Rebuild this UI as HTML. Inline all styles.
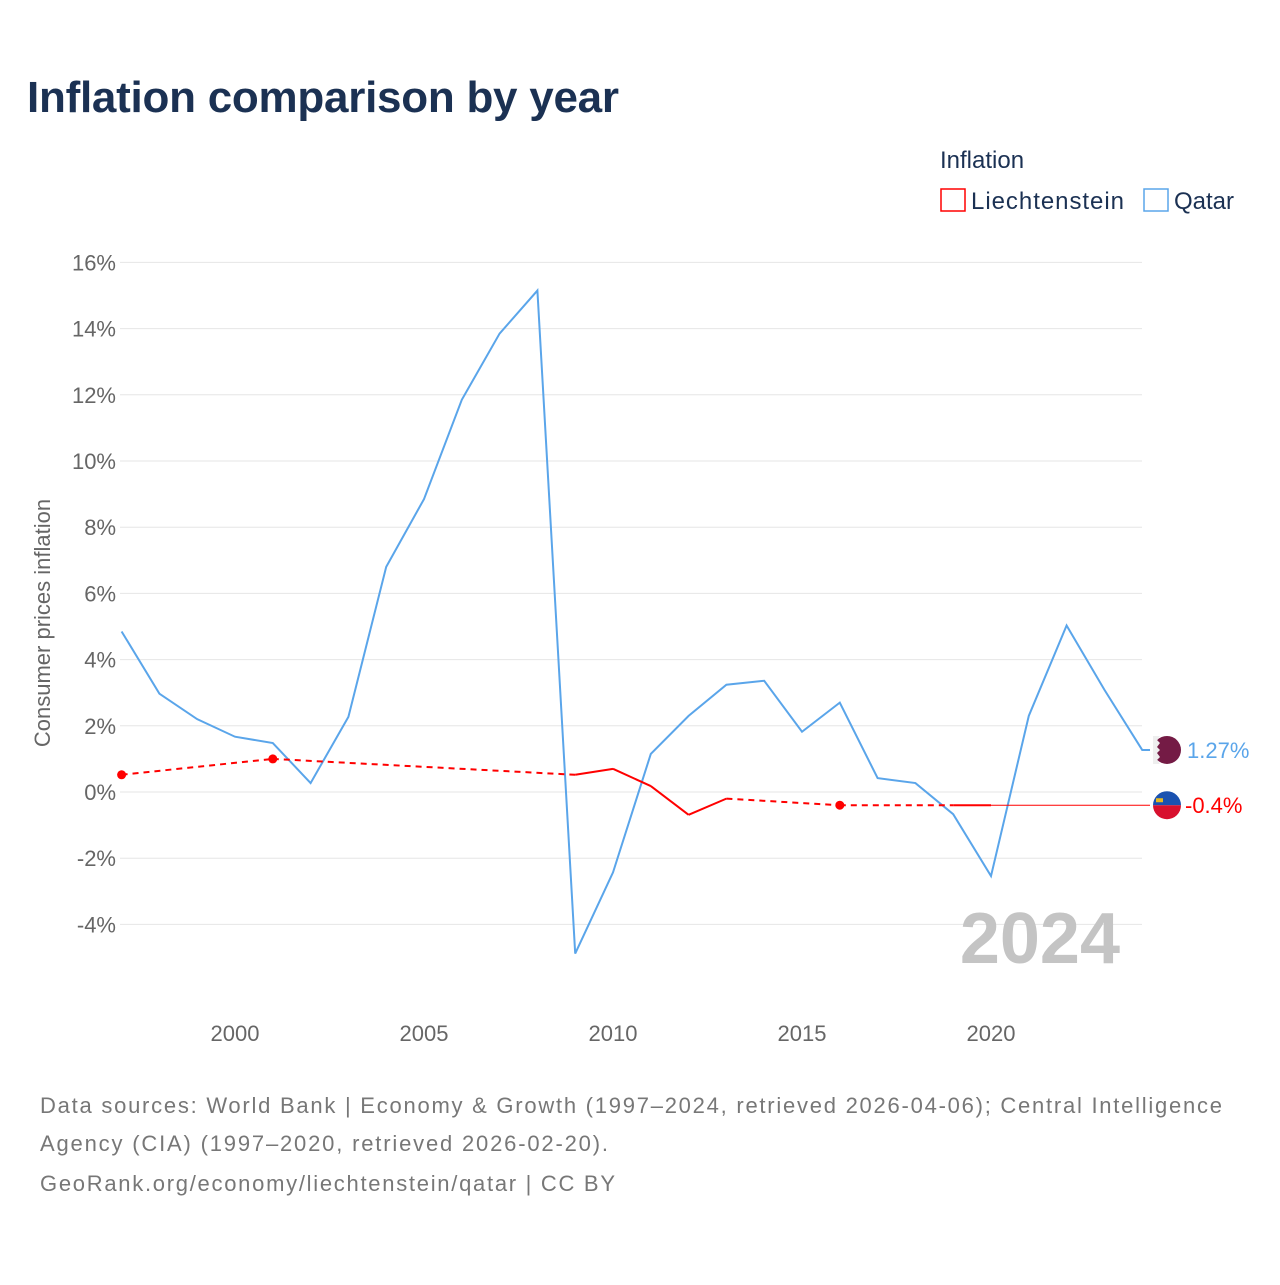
<!DOCTYPE html>
<html><head><meta charset="utf-8"><style>
body{margin:0;background:#fff;font-family:"Liberation Sans",sans-serif;}
svg text{font-family:"Liberation Sans",sans-serif;}
</style></head><body>
<svg id="c" width="1280" height="1280" viewBox="0 0 1280 1280" xmlns="http://www.w3.org/2000/svg">
<text x="27" y="112" font-size="44" font-weight="bold" fill="#1b3153" textLength="592">Inflation comparison by year</text>
<text x="940" y="168" font-size="24" fill="#1b3153">Inflation</text>
<g><rect x="941" y="189" width="24" height="22" fill="none" stroke="#f00" stroke-width="1.5"/><text x="971" y="209" font-size="24" fill="#1b3153" textLength="153">Liechtenstein</text></g>
<g><rect x="1144" y="189" width="24" height="22" fill="none" stroke="#5aa5ea" stroke-width="1.5"/><text x="1174" y="209" font-size="24" fill="#1b3153">Qatar</text></g>
<g id="grid"></g><g id="series"></g>
<text transform="translate(50,623) rotate(-90)" text-anchor="middle" font-size="22" fill="#666">Consumer prices inflation</text>
<text x="1120" y="963" text-anchor="end" font-size="72" font-weight="bold" fill="#c4c4c4">2024</text>
<g font-size="22" fill="#777">
<text x="40" y="1113" textLength="1182">Data sources: World Bank | Economy &amp; Growth (1997–2024, retrieved 2026-04-06); Central Intelligence</text>
<text x="40" y="1151" textLength="568">Agency (CIA) (1997–2020, retrieved 2026-02-20).</text>
<text x="40" y="1191" textLength="575">GeoRank.org/economy/liechtenstein/qatar | CC BY</text></g>
</svg>
<script>
const years=[1997,1998,1999,2000,2001,2002,2003,2004,2005,2006,2007,2008,2009,2010,2011,2012,2013,2014,2015,2016,2017,2018,2019,2020,2021,2022,2023,2024];
const qatar=[4.85,2.97,2.2,1.67,1.48,0.27,2.27,6.8,8.85,11.85,13.85,15.15,-4.88,-2.43,1.15,2.3,3.24,3.36,1.82,2.7,0.42,0.27,-0.67,-2.54,2.3,5.03,3.09,1.27];
const liech=[0.52,null,null,null,1.0,null,null,null,null,null,null,null,0.52,0.7,0.18,-0.69,-0.2,null,null,-0.4,null,null,-0.4,-0.4,null,null,null,null];
const yTicks=[16,14,12,10,8,6,4,2,0,-2,-4];
const xTicks=[2000,2005,2010,2015,2020];
const NS="http://www.w3.org/2000/svg";
const X=y=>121.6+(y-1997)*37.8, Y=v=>792-v*33.1;
function mk(t,a,p){const e=document.createElementNS(NS,t);for(const k in a)e.setAttribute(k,a[k]);p.appendChild(e);return e;}
const g=document.getElementById('grid'),s=document.getElementById('series');
yTicks.forEach(v=>{const l=mk('line',{x1:120,x2:1142,y1:Y(v),y2:Y(v),stroke:'#e6e6e6'},g);


const t=mk('text',{x:116,y:Y(v)+8,'text-anchor':'end','font-size':22,fill:'#666'},g);t.textContent=v+'%';

});
xTicks.forEach(v=>{const t=mk('text',{x:X(v),y:1041,'text-anchor':'middle','font-size':22,fill:'#666'},g);t.textContent=v;

});
let d=years.map((y,i)=>(i?'L':'M')+X(y)+','+Y(qatar[i])).join('')+'L1150,'+Y(qatar[qatar.length-1]);
const q=mk('path',{d:d,fill:'none',stroke:'#5aa5ea','stroke-width':2},s);


const pts=[];years.forEach((y,i)=>{if(liech[i]!==null)pts.push([i,y,liech[i]]);});
for(let k=1;k<pts.length;k++){const a=pts[k-1],b=pts[k];const dashed=b[0]-a[0]>1;
const l=mk('line',{x1:X(a[1]),y1:Y(a[2]),x2:X(b[1]),y2:Y(b[2]),stroke:'#f00','stroke-width':2,'stroke-dasharray':dashed?'6,5':'none'},s);

}
pts.forEach((p,k)=>{const prev=k>0&&pts[k-1][0]===p[0]-1,next=k<pts.length-1&&pts[k+1][0]===p[0]+1;
if(!prev&&!next){const c=mk('circle',{cx:X(p[1]),cy:Y(p[2]),r:4.5,fill:'#f00'},s);

}});
const lastL=pts[pts.length-1];
const ext=mk('line',{x1:X(lastL[1]),y1:Y(lastL[2]),x2:1150,y2:Y(lastL[2]),stroke:'#f00','stroke-width':1},s);


const qy=Y(qatar[qatar.length-1]),ly=Y(lastL[2]);
const fq=mk('g',{},s);


mk('circle',{cx:1167,cy:qy,r:14,fill:'#741b45'},fq);
mk('path',{d:`M1153,${qy-14}L1160,${qy-14}L1157,${qy-10}L1160,${qy-7}L1157,${qy-3}L1160,${qy}L1157,${qy+3}L1160,${qy+7}L1157,${qy+10}L1160,${qy+14}L1153,${qy+14}Z`,fill:'#eee'},fq);
const tq=mk('text',{x:1187,y:qy+8,'font-size':22,fill:'#5aa5ea'},s);tq.textContent=qatar[qatar.length-1].toFixed(2)+'%';


const fl=mk('g',{},s);


mk('path',{d:`M1153,${ly}A14,14 0 0 1 1181,${ly}Z`,fill:'#1a52b0'},fl);
mk('path',{d:`M1153,${ly}A14,14 0 0 0 1181,${ly}Z`,fill:'#d8102e'},fl);
mk('rect',{x:1156,y:ly-7,width:7,height:4,fill:'#e6b822'},fl);
const tl=mk('text',{x:1185,y:ly+8,'font-size':22,fill:'#f00'},s);tl.textContent=lastL[2]+'%';


</script>
</body></html>
